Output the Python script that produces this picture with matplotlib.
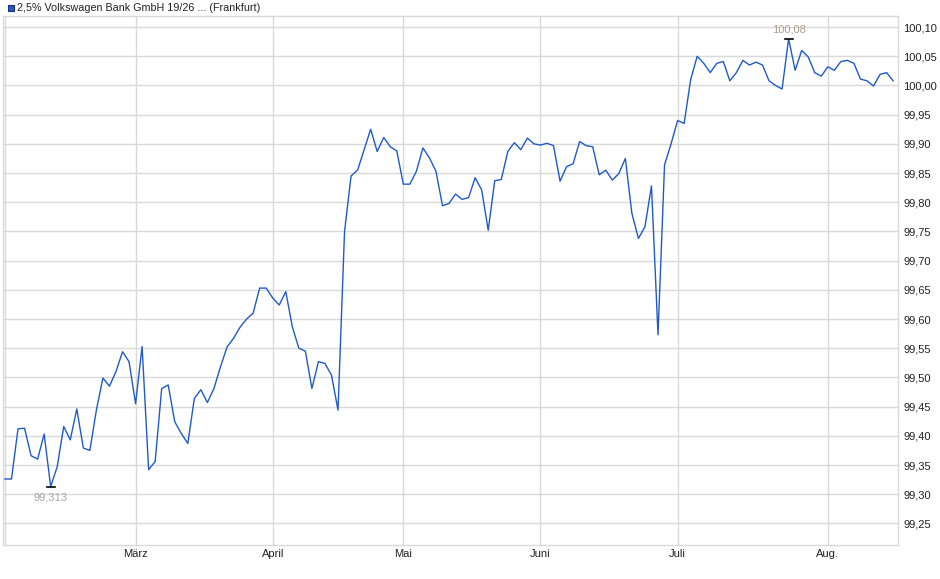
import matplotlib.pyplot as plt

plt.rcParams['font.family'] = ['Liberation Sans', 'DejaVu Sans']

# closing prices, one per trading day (Feb - mid Aug)
prices = [
    99.326, 99.326, 99.412, 99.413, 99.366, 99.360, 99.403, 99.313, 99.347, 99.416,
    99.393, 99.446, 99.379, 99.375, 99.444, 99.499, 99.485, 99.510, 99.544, 99.527,
    99.455, 99.553, 99.342, 99.356, 99.481, 99.487, 99.424, 99.404, 99.387, 99.464,
    99.479, 99.457, 99.481, 99.518, 99.552, 99.567, 99.586, 99.600, 99.610, 99.653,
    99.653, 99.636, 99.624, 99.647, 99.587, 99.550, 99.545, 99.481, 99.527, 99.524,
    99.504, 99.444, 99.750, 99.845, 99.855, 99.890, 99.925, 99.887, 99.911, 99.895,
    99.888, 99.831, 99.831, 99.853, 99.893, 99.876, 99.853, 99.794, 99.798, 99.814,
    99.805, 99.808, 99.842, 99.821, 99.752, 99.837, 99.839, 99.887, 99.902, 99.890,
    99.910, 99.900, 99.898, 99.901, 99.897, 99.836, 99.861, 99.866, 99.904, 99.897,
    99.895, 99.847, 99.855, 99.838, 99.849, 99.875, 99.781, 99.738, 99.758, 99.828,
    99.573, 99.864, 99.900, 99.940, 99.935, 100.010, 100.050, 100.038, 100.022, 100.038,
    100.041, 100.008, 100.022, 100.043, 100.035, 100.040, 100.035, 100.008, 100.000, 99.994,
    100.080, 100.026, 100.060, 100.049, 100.022, 100.016, 100.032, 100.026, 100.041, 100.043,
    100.038, 100.011, 100.008, 99.999, 100.019, 100.022, 100.008,
]
month_idx = [20, 41, 61, 82, 103, 126]
month_labels = ['März', 'April', 'Mai', 'Juni', 'Juli', 'Aug.']
yticks = [99.25 + 0.05 * k for k in range(18)]

x = list(range(len(prices)))
grid_c = '#d9d9d9'

fig = plt.figure(figsize=(9.4, 5.79), dpi=100)
ax = fig.add_axes([3 / 940, 34 / 579, 895 / 940, 529 / 579])

ax.plot(x, prices, color='#1f5bc6', lw=1.0, zorder=3)

ax.set_xlim(-0.3, 136.75)
ax.set_ylim(99.213, 100.119)

ax.set_xticks(month_idx)
ax.set_xticklabels(month_labels)
ax.set_yticks(yticks)
ax.set_yticklabels([f'{v:.2f}'.replace('.', ',') for v in yticks])
ax.yaxis.tick_right()
ax.tick_params(axis='both', length=0, labelsize=8, colors='#222222')
ax.tick_params(axis='y', pad=4)
ax.tick_params(axis='x', pad=3)
ax.grid(True, color=grid_c, lw=1.0)
ax.axvline(0, color=grid_c, lw=1.0)
for s in ax.spines.values():
    s.set_color(grid_c)
    s.set_linewidth(1.0)

# min / max markers
i_min = prices.index(min(prices))
i_max = prices.index(max(prices))
ax.plot([i_min - 0.6, i_min + 0.6], [prices[i_min]] * 2, color='black', lw=1.2, zorder=4)
ax.plot([i_max - 0.6, i_max + 0.6], [prices[i_max]] * 2, color='black', lw=1.2, zorder=4)
ax.annotate('99,313', (i_min, prices[i_min]), xytext=(0, -4), textcoords='offset points',
            ha='center', va='top', fontsize=8, color='#a6a6a6')
ax.annotate('100,08', (i_max, prices[i_max]), xytext=(0, 3), textcoords='offset points',
            ha='center', va='bottom', fontsize=8, color='#aa9f90')

# legend
fig.patches.append(plt.Rectangle((8 / 940, 1 - 11 / 579), 6 / 940, 6 / 579,
                                 transform=fig.transFigure, facecolor='#1f5bc6',
                                 edgecolor='#1a2f66', lw=0.8))
fig.text(17 / 940, 1 - 8 / 579, '2,5% Volkswagen Bank GmbH 19/26 ... (Frankfurt)',
         fontsize=7.75, va='center', ha='left', color='#222222')

fig.savefig('out.png', dpi=100)
